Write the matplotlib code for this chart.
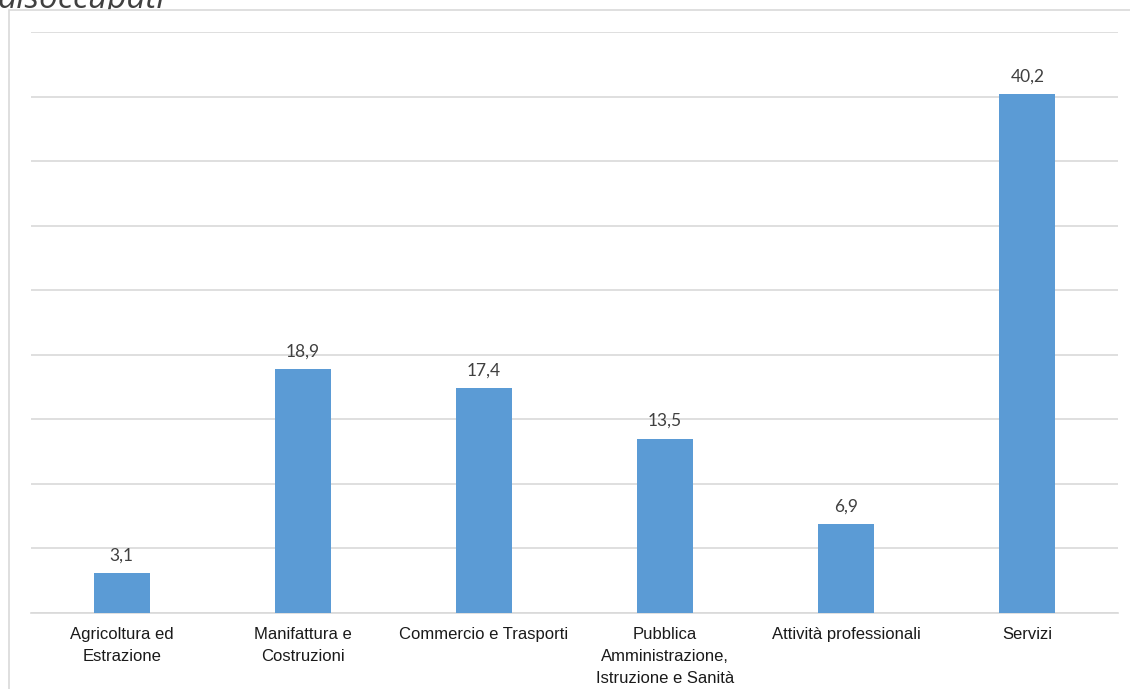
import matplotlib.pyplot as plt
from matplotlib.patches import Rectangle

# dati
settori = ['Agricoltura ed\nEstrazione', 'Manifattura e\nCostruzioni', 'Commercio e Trasporti',
           'Pubblica\nAmministrazione,\nIstruzione e Sanità', 'Attività professionali', 'Servizi']
valori = [3.1, 18.9, 17.4, 13.5, 6.9, 40.2]
etichette = ['3,1', '18,9', '17,4', '13,5', '6,9', '40,2']

W, H = 1130, 689
fig = plt.figure(figsize=(W / 100, H / 100), dpi=100)

# titolo (tagliato in alto, coperto in parte dall'area del grafico)
fig.text(-3 / W, 1 - 8.5 / H, 'disoccupati', fontsize=24, style='italic', family='Open Sans',
         color='#404040', ha='left', va='baseline', zorder=1)

# cornice del grafico (sfondo bianco sopra il titolo)
fig.patches.append(Rectangle((9 / W, -0.05), 1.0, 1.05 - 10 / H, transform=fig.transFigure,
                             facecolor='white', edgecolor='#D9D9D9', linewidth=1.2, zorder=1.5))

ax = fig.add_axes([31 / W, 1 - 613 / H, (1118 - 31) / W, (613 - 32) / H])
ax.set_zorder(2)
ax.patch.set_alpha(0)
x = range(len(settori))
bars = ax.bar(x, valori, width=0.31, color='#5B9BD5', zorder=3)
ax.set_xlim(-0.5, len(settori) - 0.5)
ax.set_ylim(0, 45)
ax.set_yticks(range(0, 46, 5))
ax.yaxis.grid(True, color='#D9D9D9', linewidth=1.2, zorder=0)
ax.tick_params(axis='y', left=False, labelleft=False)
ax.tick_params(axis='x', bottom=False, pad=6.5)
ax.set_xticks(list(x))
ax.set_xticklabels(settori, fontsize=12, family='Liberation Sans', color='#1a1a1a', linespacing=1.6)
for s in ['top', 'right', 'left']:
    ax.spines[s].set_visible(False)
ax.spines['bottom'].set_color('#D9D9D9')
ax.spines['bottom'].set_linewidth(1.2)

for b, t in zip(bars, etichette):
    ax.annotate(t, (b.get_x() + b.get_width() / 2, b.get_height()), xytext=(0, 7),
                textcoords='offset points', ha='center', va='bottom',
                fontsize=12.5, family='Lato', color='#404040')

fig.savefig('out.png', dpi=100)
